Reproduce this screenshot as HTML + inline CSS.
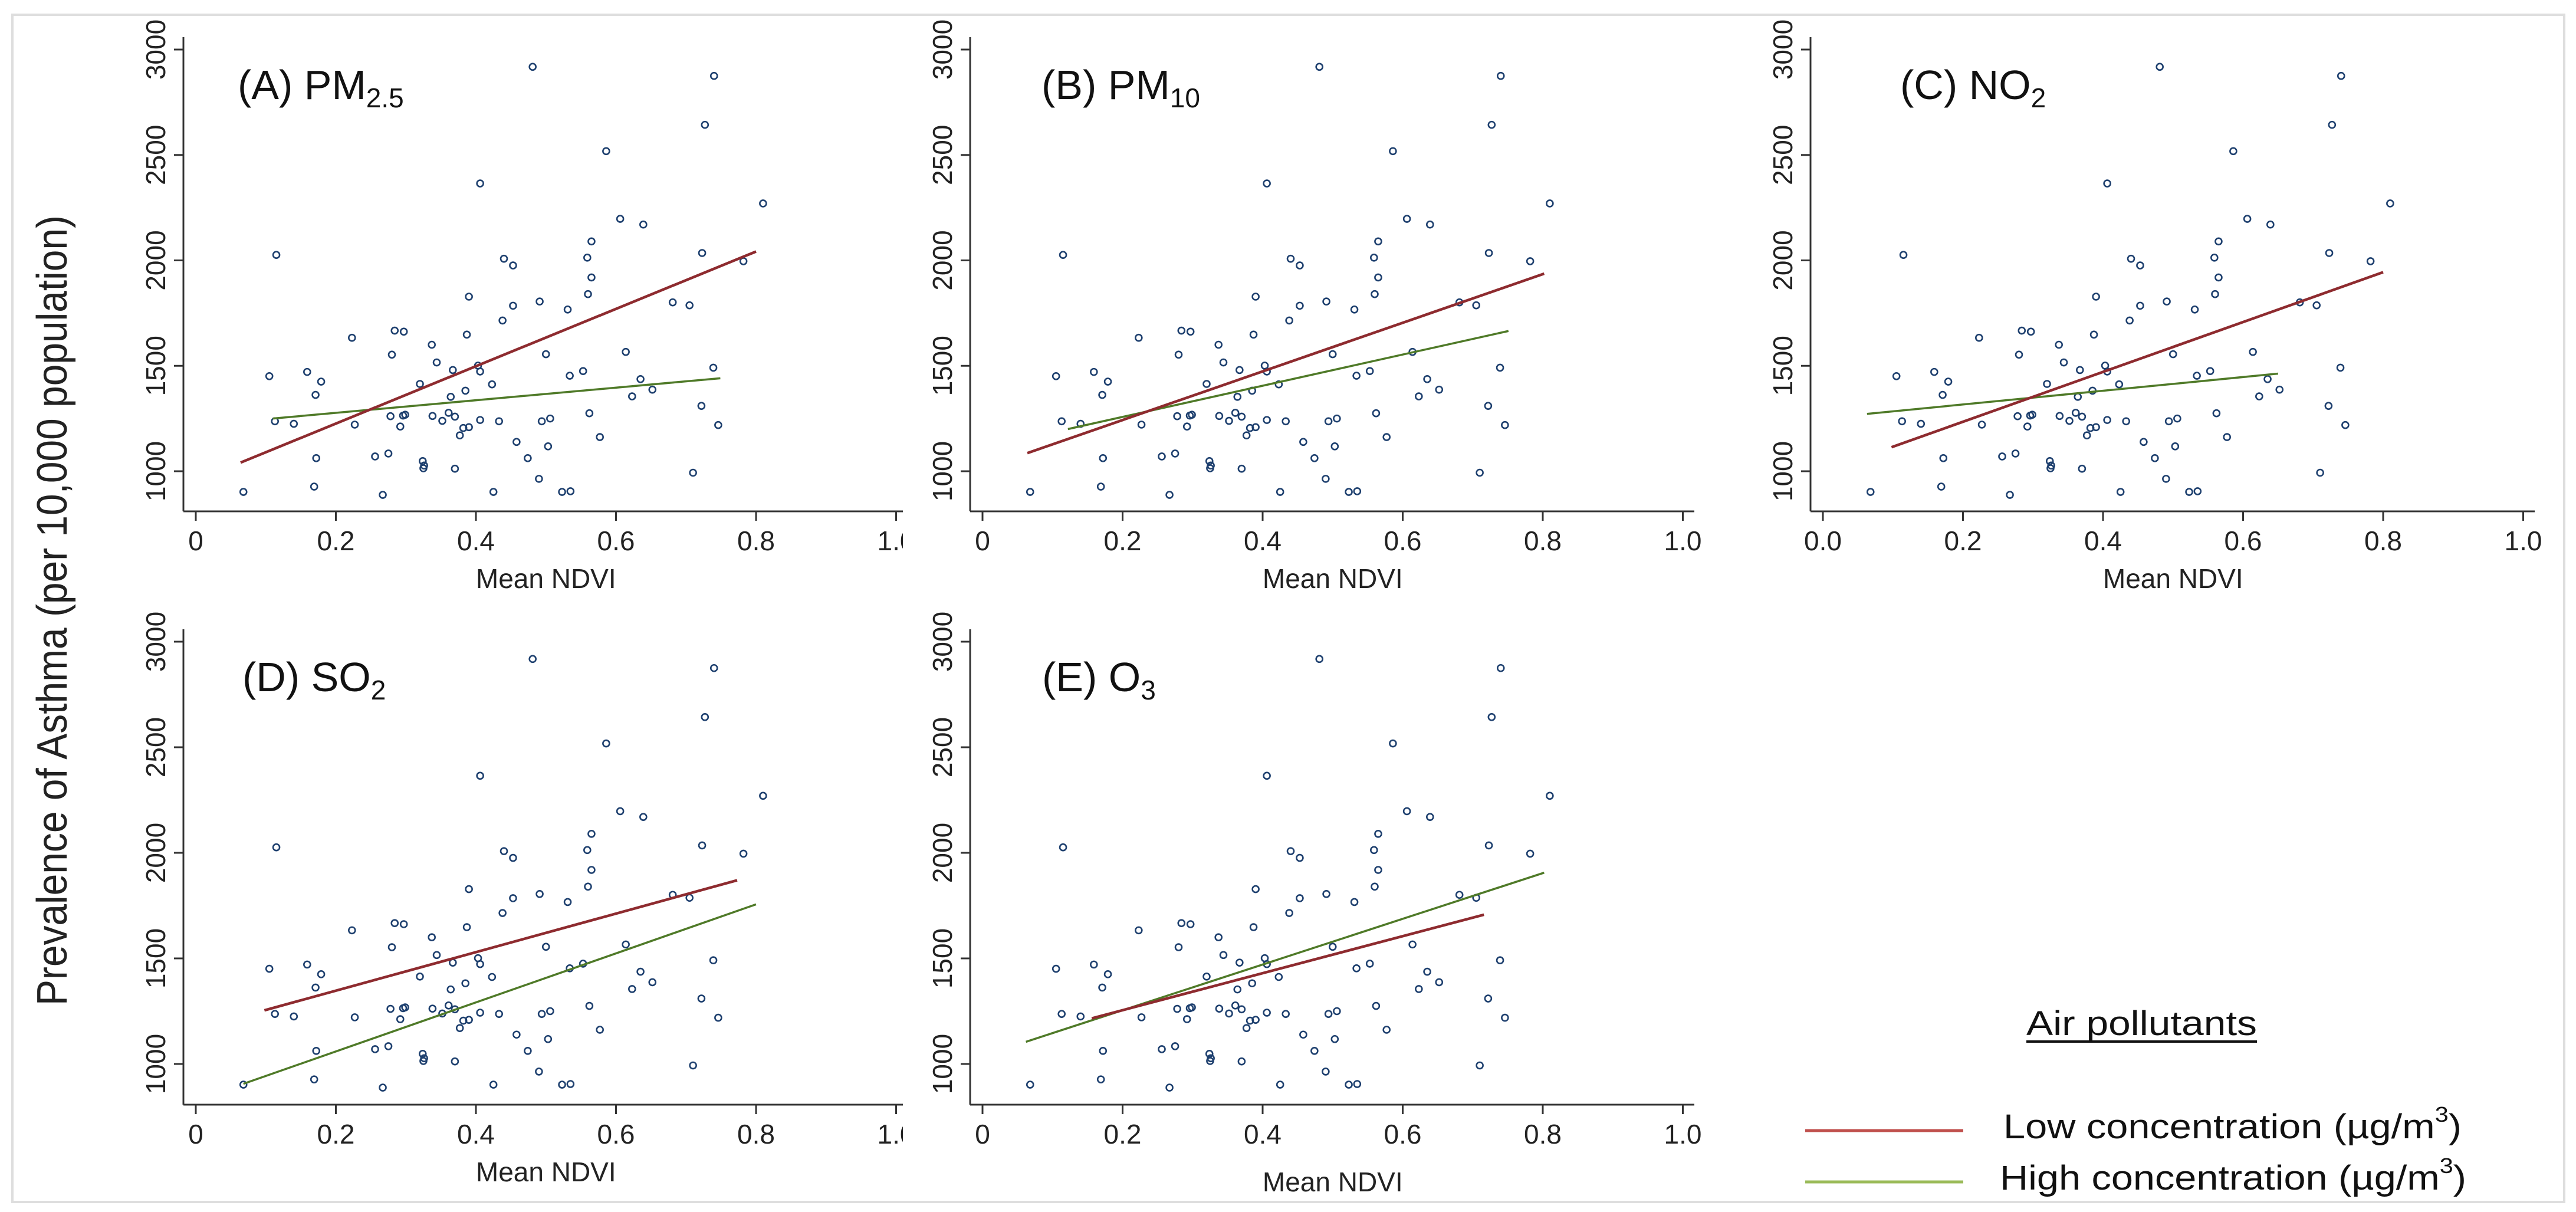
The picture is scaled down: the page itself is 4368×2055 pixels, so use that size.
<!DOCTYPE html>
<html>
<head>
<meta charset="utf-8">
<style>
html,body{margin:0;padding:0;background:#fff;}
svg{display:block;}
text{font-family:"Liberation Sans",sans-serif;}
</style>
</head>
<body>
<svg id="fig" width="4368" height="2055" viewBox="0 0 4368 2055" xmlns="http://www.w3.org/2000/svg">
<rect x="0" y="0" width="4368" height="2055" fill="#fff"/>
<g id="panels"></g>
<rect x="21" y="25" width="4327" height="2013" fill="none" stroke="#dedede" stroke-width="4"/>
<text transform="translate(113,1035) rotate(-90)" text-anchor="middle" font-size="72" fill="#222" textLength="1340" lengthAdjust="spacingAndGlyphs">Prevalence of Asthma (per 10,000 population)</text>
<g>
  <text x="3436" y="1755" font-size="58" fill="#111" textLength="391" lengthAdjust="spacingAndGlyphs">Air pollutants</text>
  <line x1="3436" y1="1766" x2="3827" y2="1766" stroke="#111" stroke-width="4"/>
  <line x1="3061" y1="1917" x2="3329" y2="1917" stroke="#c0504d" stroke-width="5"/>
  <text x="3397" y="1930" font-size="58" fill="#111" textLength="777" lengthAdjust="spacingAndGlyphs">Low concentration (µg/m<tspan font-size="36" dy="-28">3</tspan><tspan dy="28">)</tspan></text>
  <line x1="3061" y1="2004" x2="3329" y2="2004" stroke="#9bbb59" stroke-width="5"/>
  <text x="3391" y="2017" font-size="58" fill="#111" textLength="791" lengthAdjust="spacingAndGlyphs">High concentration (µg/m<tspan font-size="36" dy="-28">3</tspan><tspan dy="28">)</tspan></text>
</g>
</svg>
<script>
// Shared scatter data (Mean NDVI, asthma prevalence)
const ndvi = [0.481,0.740,0.727,0.586,0.406,0.810,0.606,0.639,0.565,0.115,0.723,0.440,0.559,0.453,0.782,0.565,0.390,0.560,0.491,0.453,0.681,0.705,0.531,0.438,0.284,0.297,0.387,0.223,0.337,0.280,0.500,0.614,0.344,0.403,0.739,0.367,0.406,0.553,0.159,0.105,0.534,0.179,0.635,0.320,0.423,0.385,0.652,0.171,0.364,0.623,0.722,0.562,0.361,0.278,0.296,0.299,0.338,0.370,0.113,0.140,0.227,0.292,0.352,0.406,0.433,0.494,0.506,0.382,0.390,0.746,0.377,0.577,0.458,0.503,0.275,0.256,0.172,0.474,0.324,0.326,0.325,0.370,0.710,0.490,0.169,0.068,0.425,0.523,0.535,0.267];
const asthma = [2918,2875,2643,2518,2365,2270,2197,2170,2090,2026,2035,2008,2013,1976,1996,1919,1828,1840,1805,1785,1801,1787,1767,1715,1667,1662,1648,1633,1600,1553,1555,1566,1516,1501,1491,1480,1473,1475,1471,1451,1453,1425,1437,1414,1412,1382,1387,1362,1353,1355,1310,1275,1277,1261,1264,1268,1262,1259,1237,1225,1221,1212,1239,1243,1237,1237,1250,1205,1209,1219,1170,1162,1139,1118,1084,1070,1062,1062,1048,1027,1014,1012,993,964,927,902,902,902,905,888];
// Panel names
const panelLetters = ["A","B","C","D","E"];
const panelPollutant = ["PM","PM","NO","SO","O"];
const panelSub = ["2.5","10","2","2","3"];
// Fitted lines: [x0, x1] and [y0, y1]
const lowX = [[0.064,0.80],[0.064,0.802],[0.098,0.80],[0.098,0.773],[0.156,0.716]];
const lowY = [[1041,2042],[1086,1937],[1114,1944],[1254,1870],[1216,1707]];
const highX = [[0.110,0.749],[0.122,0.751],[0.063,0.650],[0.068,0.800],[0.062,0.802]];
const highY = [[1250,1441],[1200,1665],[1272,1463],[906,1756],[1105,1906]];
const xTicks = [0,0.2,0.4,0.6,0.8,1.0];
const xTickLabels = ["0","0.2","0.4","0.6","0.8","1.0"];
const xTickLabelsC = ["0.0","0.2","0.4","0.6","0.8","1.0"];
const yTicks = [1000,1500,2000,2500,3000];

const NS = "http://www.w3.org/2000/svg";
const layout = [
  {ox:332,row:0,bg:null},
  {ox:1666,row:0,bg:1531},
  {ox:3091,row:0,bg:2990},
  {ox:332,row:1,bg:null},
  {ox:1666,row:1,bg:1531}
];
const rows = [{y3000:84,y1000:799,axisY:867,top:63},{y3000:1088,y1000:1804,axisY:1873,top:1067}];
function mk(tag, attrs, parent){const e=document.createElementNS(NS,tag);for(const k in attrs)e.setAttribute(k,attrs[k]);parent.appendChild(e);return e;}
const root = document.getElementById("panels");
panelLetters.forEach((L,i)=>{
  const lay = layout[i], r = rows[lay.row];
  const sx = v => lay.ox + v*1187.5;
  const sy = v => r.y1000 - (v-1000)*(r.y1000-r.y3000)/2000;
  const g = mk("g",{},root);
  
  
  if(lay.bg!==null){
    mk("rect",{x:lay.bg,y:r.top-28,width:lay.ox+1240-lay.bg,height:r.axisY+140-(r.top-28),fill:"#fff"},g);
  }
  const axX = lay.ox-21;
  const ya = mk("line",{x1:axX,y1:r.top,x2:axX,y2:r.axisY,stroke:"#333","stroke-width":3},g);
  
  
  const xa = mk("line",{x1:axX,y1:r.axisY,x2:lay.ox+1207,y2:r.axisY,stroke:"#333","stroke-width":3},g);
  
  
  yTicks.forEach(t=>{
    const y=sy(t);
    mk("line",{x1:axX-16,y1:y,x2:axX,y2:y,stroke:"#333","stroke-width":3},g);
    const tx = mk("text",{transform:`translate(${axX-31},${y}) rotate(-90)`,"text-anchor":"middle","font-size":46,fill:"#222"},g);
    tx.textContent=String(t);
    
    
  });
  const labs = (i===2)?xTickLabelsC:xTickLabels;
  xTicks.forEach((t,k)=>{
    const x=sx(t);
    mk("line",{x1:x,y1:r.axisY,x2:x,y2:r.axisY+16,stroke:"#333","stroke-width":3},g);
    const tx = mk("text",{x:x,y:r.axisY+66,"text-anchor":"middle","font-size":46,fill:"#222"},g);
    tx.textContent=labs[k];
    
    
  });
  const xt = mk("text",{x:sx(0.5),y:r.axisY+130+(i===4?17:0),"text-anchor":"middle","font-size":46,fill:"#222"},g);
  xt.textContent="Mean NDVI";
  
  
  const titleOff = [71,100,131,79,101][i];
  const tt = mk("text",{x:lay.ox+titleOff,y:r.top+105,"font-size":70,fill:"#111"},g);
  
  
  tt.appendChild(document.createTextNode("("+L+") "+panelPollutant[i]));
  const sub = mk("tspan",{"font-size":46,dy:14},tt);
  sub.textContent = panelSub[i];
  ndvi.forEach((v,k)=>{
    const c = mk("circle",{cx:sx(v),cy:sy(asthma[k]),r:5.5,fill:"none",stroke:"#1d3f6e","stroke-width":2.6},g);
    
    
  });
  const hl = mk("line",{x1:sx(highX[i][0]),y1:sy(highY[i][0]),x2:sx(highX[i][1]),y2:sy(highY[i][1]),stroke:"#4f7a28","stroke-width":3.5},g);
  
  
  const ll = mk("line",{x1:sx(lowX[i][0]),y1:sy(lowY[i][0]),x2:sx(lowX[i][1]),y2:sy(lowY[i][1]),stroke:"#8e2b2f","stroke-width":4.5},g);
  
  
});
</script>
</body>
</html>
